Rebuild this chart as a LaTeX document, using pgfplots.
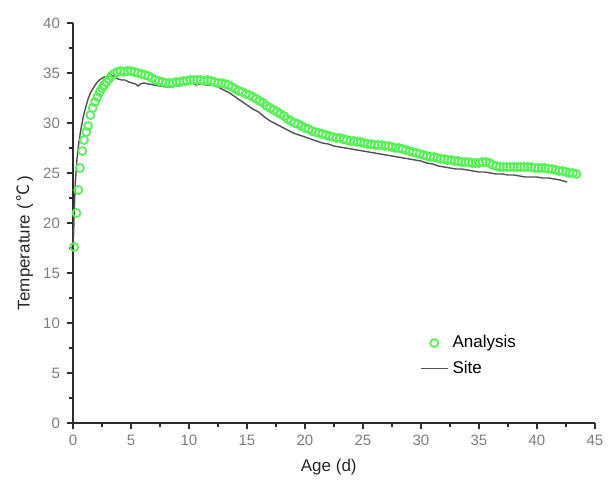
\documentclass[border=0pt]{standalone}
\usepackage{fontspec}
\setmainfont{Liberation Sans}
\newfontfamily\cjk{Noto Sans CJK SC}
\usepackage{pgfplots}
\pgfplotsset{compat=1.18}
\definecolor{anagreen}{RGB}{90,240,90}
\definecolor{sitegray}{RGB}{80,80,85}
\definecolor{axgray}{RGB}{45,45,45}
\definecolor{tickgray}{RGB}{125,125,125}
\begin{document}
\begin{tikzpicture}
\begin{axis}[
  scale only axis,
  width=261pt, height=200pt,
  xmin=0, xmax=45, ymin=0, ymax=40,
  axis x line=bottom, axis y line=left,
  axis line style={-, line width=1.1pt, color=axgray},
  xtick={0,5,...,45}, ytick={0,5,...,40},
  minor x tick num=1, minor y tick num=1,
  tick align=outside,
  major tick length=3pt, minor tick length=2pt,
  tick style={line width=1pt, color=axgray},
  /pgf/number format/assume math mode=true,
  ticklabel style={font=\fontsize{7.5}{8}\selectfont, color=tickgray},
  xticklabel style={yshift=0.5pt},
  xlabel={Age (d)},
  ylabel={Temperature (\,{\cjk ℃}\,)},
  label style={font=\fontsize{8.5}{10}\selectfont, color=black!85},
  xlabel style={at={(axis description cs:0.49,-0.11)}, anchor=center},
  ylabel style={at={(axis description cs:-0.092,0.45)}, anchor=center, rotate=0},
  legend style={at={(rel axis cs:0.66,0.235)}, anchor=north west, draw=none, fill=none,
    font=\fontsize{8.5}{10}\selectfont, row sep=1pt, inner sep=1pt},
  legend cell align=left,
  legend image code/.code={\draw[mark repeat=2,mark phase=2,#1] plot coordinates {(0cm,0cm) (0.24cm,0cm) (0.48cm,0cm)};},
  clip=false,
]
\addplot[only marks, mark=o, mark size=2pt, mark options={draw=anagreen, line width=0.9pt}]
coordinates {
(0.1,17.6)(0.3,21.0)(0.45,23.3)(0.6,25.5)(0.8,27.2)(0.95,28.3)(1.15,29.1)(1.3,29.7)
(1.5,30.8)(1.7,31.5)(1.9,32.1)(2.1,32.6)(2.3,33.1)(2.5,33.5)(2.7,33.8)(2.9,34.1)
(3.1,34.4)(3.3,34.7)(3.5,34.9)(3.8,35.1)(4.1,35.2)(4.4,35.1)(4.7,35.2)(5.0,35.2)
(5.3,35.1)(5.6,35.0)(5.9,34.9)(6.2,34.8)(6.5,34.7)(6.8,34.5)(7.1,34.3)(7.4,34.2)
(7.7,34.1)(8.0,34.0)(8.3,34.0)(8.6,34.0)(8.9,34.1)(9.2,34.1)(9.5,34.2)(9.8,34.2)
(10.1,34.3)(10.4,34.3)(10.7,34.3)(11.0,34.3)(11.3,34.2)(11.6,34.3)(11.9,34.2)(12.2,34.1)
(12.5,34.0)(12.8,34.0)(13.1,33.9)(13.4,33.8)(13.7,33.6)(14.0,33.4)(14.3,33.2)(14.6,33.1)
(14.9,32.9)(15.2,32.8)(15.5,32.6)(15.8,32.4)(16.1,32.2)(16.4,32.0)(16.7,31.7)(17.0,31.5)
(17.3,31.3)(17.6,31.1)(17.9,30.9)(18.2,30.7)(18.5,30.4)(18.8,30.2)(19.1,30.0)(19.4,29.9)
(19.7,29.7)(20.0,29.5)(20.3,29.4)(20.6,29.2)(20.9,29.1)(21.2,29.0)(21.5,28.9)(21.8,28.8)
(22.1,28.7)(22.4,28.6)(22.7,28.5)(23.0,28.5)(23.3,28.4)(23.6,28.3)(23.9,28.2)(24.2,28.2)
(24.5,28.1)(24.8,28.1)(25.1,28.0)(25.4,27.9)(25.7,27.9)(26.0,27.8)(26.3,27.8)(26.6,27.8)
(26.9,27.7)(27.2,27.7)(27.5,27.6)(27.8,27.5)(28.1,27.5)(28.4,27.4)(28.7,27.3)(29.0,27.2)
(29.3,27.1)(29.6,27.0)(29.9,26.9)(30.2,26.8)(30.5,26.7)(30.8,26.6)(31.1,26.6)(31.4,26.5)
(31.7,26.4)(32.0,26.4)(32.3,26.3)(32.6,26.3)(32.9,26.2)(33.2,26.2)(33.5,26.1)(33.8,26.1)
(34.1,26.1)(34.4,26.0)(34.7,26.0)(35.0,26.0)(35.3,26.1)(35.6,26.1)(35.9,26.0)(36.2,25.8)
(36.5,25.7)(36.8,25.6)(37.1,25.6)(37.4,25.6)(37.7,25.6)(38.0,25.6)(38.3,25.6)(38.6,25.6)
(38.9,25.6)(39.2,25.6)(39.5,25.6)(39.8,25.5)(40.1,25.5)(40.4,25.5)(40.7,25.5)(41.0,25.4)
(41.3,25.4)(41.6,25.3)(41.9,25.2)(42.2,25.2)(42.5,25.1)(42.8,25.0)(43.1,25.0)(43.4,24.9)
};
\addlegendentry{Analysis}
\addplot[no marks, color=sitegray, line width=0.7pt]
coordinates {
(0.02,17.5)(0.1,21.0)(0.2,24.0)(0.35,26.5)(0.5,28.0)(0.7,29.5)(0.9,30.7)(1.1,31.6)
(1.3,32.4)(1.5,33.0)(1.8,33.6)(2.1,34.1)(2.4,34.4)(2.7,34.6)(3.0,34.7)(3.3,34.8)
(3.6,34.6)(3.9,34.4)(4.2,34.3)(4.5,34.3)(4.8,34.1)(5.1,34.0)(5.4,33.9)(5.6,33.7)
(5.8,33.9)(6.1,34.0)(6.5,33.9)(7.0,33.8)(7.5,33.7)(8.0,33.6)(8.5,33.6)(9.0,33.7)
(9.5,33.8)(10.0,33.9)(10.3,34.0)(10.6,33.8)(11.0,33.9)(11.5,33.8)(12.0,33.8)(12.5,33.6)
(13.0,33.3)(13.5,33.0)(14.0,32.6)(14.5,32.2)(15.0,31.8)(15.5,31.4)(16.0,31.1)(16.5,30.6)
(17.0,30.2)(17.5,29.9)(18.0,29.6)(18.5,29.3)(19.0,29.0)(19.5,28.8)(20.0,28.6)(20.5,28.4)
(21.0,28.2)(21.5,28.0)(22.0,27.9)(22.5,27.7)(23.0,27.6)(23.5,27.5)(24.0,27.4)(24.5,27.3)
(25.0,27.2)(25.5,27.1)(26.0,27.0)(26.5,26.9)(27.0,26.8)(27.5,26.7)(28.0,26.6)(28.5,26.5)
(29.0,26.4)(29.5,26.3)(30.0,26.2)(30.5,26.0)(31.0,25.9)(31.5,25.7)(32.0,25.6)(32.5,25.5)
(33.0,25.4)(33.5,25.4)(34.0,25.3)(34.5,25.2)(35.0,25.1)(35.5,25.1)(36.0,25.0)(36.5,24.9)
(37.0,24.9)(37.5,24.8)(38.0,24.8)(38.5,24.7)(39.0,24.6)(39.5,24.6)(40.0,24.6)(40.5,24.5)
(41.0,24.5)(41.5,24.4)(42.0,24.3)(42.6,24.1)
};
\addlegendentry{Site}
\end{axis}
\useasboundingbox (-36.5pt,-36pt) rectangle (269pt,211.5pt);
\end{tikzpicture}
\end{document}
